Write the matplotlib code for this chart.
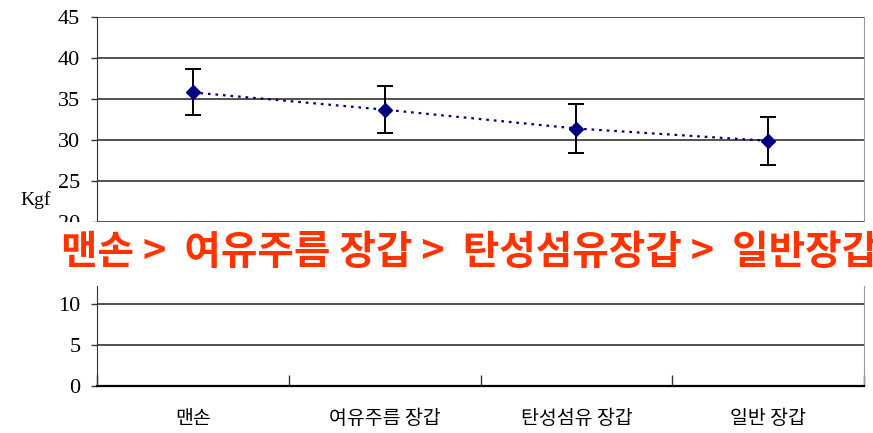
import matplotlib.pyplot as plt
from matplotlib.patches import Rectangle

plt.rcParams['font.family'] = ['Liberation Serif', 'Noto Sans CJK KR']

categories = ['맨손', '여유주름 장갑', '탄성섬유 장갑', '일반 장갑']
means = [35.8, 33.7, 31.4, 29.9]
errors = [2.8, 2.85, 2.95, 2.95]
yticks = [0, 5, 10, 15, 20, 25, 30, 35, 40, 45]
banner = '맨손 >  여유주름 장갑 >  탄성섬유장갑 >  일반장갑'

fig = plt.figure(figsize=(8.73, 4.33), dpi=100)
ax = fig.add_axes([97 / 873, 1 - 386 / 433, 767 / 873, 369 / 433])

x = [i + 0.5 for i in range(len(categories))]
ax.plot(x, means, linestyle=(0, (1.2, 2.2)), color='#000080', lw=1.6, zorder=3)
ax.errorbar(x, means, yerr=errors, fmt='none', ecolor='black', elinewidth=1.4,
            capsize=6, capthick=1.4, zorder=2)
ax.plot(x, means, 'D', color='#000080', markersize=7, zorder=4)

ax.set_xlim(0, len(categories))
ax.set_ylim(0, 45)
ax.set_yticks(yticks)
# 15 sits under the banner strip anyway
ax.set_yticklabels(['' if v == 15 else str(v) for v in yticks], fontsize=16)
for v in yticks[1:]:
    ax.axhline(v, color='#333333', lw=1.2, zorder=1)

# category boundaries as ticks, labels centred in each slot
ax.set_xticks(range(len(categories) + 1))
ax.set_xticklabels([])
ax.tick_params(axis='x', direction='in', length=8, width=1, color='#333333')
ax.tick_params(axis='y', length=4, width=1, color='#333333', pad=8)
for xi, name in zip(x, categories):
    ax.text(xi, -4.0, name, ha='center', va='center', fontsize=14,
            family=['Noto Sans CJK KR'], transform=ax.transData, clip_on=False)

ax.spines['top'].set_visible(False)
ax.spines['left'].set_color('#333333')
ax.spines['right'].set_color('#999999')
ax.spines['bottom'].set_color('black')
ax.spines['bottom'].set_linewidth(1.6)

fig.text(20 / 873, 1 - 200 / 433, 'Kgf', fontsize=14, ha='left', va='center')

# white strip over the lower part of the scale carrying the ranking
fig.add_artist(Rectangle((0, 1 - 286 / 433), 1, 64 / 433, transform=fig.transFigure,
                         facecolor='white', edgecolor='none', zorder=5))
fig.text(61 / 873, 1 - 253 / 433, banner, fontsize=28.6, color='#ff3300',
         family=['Noto Sans CJK KR'], weight='bold', ha='left', va='center', zorder=6)

fig.savefig('out.png', dpi=100)
